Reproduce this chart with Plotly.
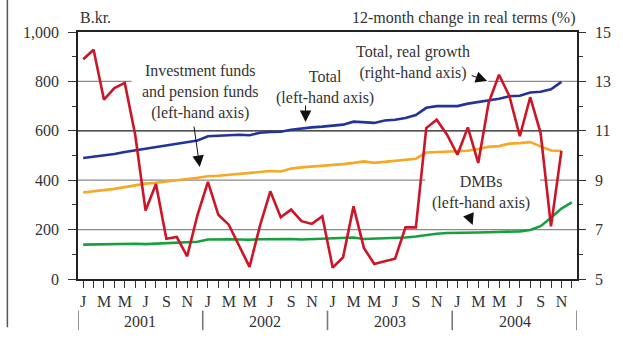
import plotly.graph_objects as go

# Monthly observations, January 2001 - December 2004
years = [2001, 2002, 2003, 2004]
month_letters = ["J", "F", "M", "A", "M", "J", "J", "A", "S", "O", "N", "D"]

# Total assets, B.kr. (left-hand axis)
total = [490, 495, 500, 506, 514, 521, 527, 533, 542, 550, 556, 561,
         578, 580, 580, 584, 582, 592, 595, 596, 604, 610, 614, 617,
         620, 625, 637, 633, 632, 642, 645, 652, 664, 693, 700, 700,
         700, 710, 716, 722, 730, 740, 742, 755, 758, 768, 798]

# Investment funds and pension funds, B.kr. (left-hand axis)
funds = [350, 354, 358, 365, 372, 380, 386, 390, 396, 400, 405, 410,
         416, 418, 422, 425, 428, 432, 437, 435, 447, 452, 455, 458,
         460, 465, 470, 476, 470, 474, 478, 483, 487, 512, 514, 515,
         516, 519, 526, 535, 538, 548, 550, 554, 537, 520, 518]

# DMBs, B.kr. (left-hand axis)
dmbs = [139, 140, 141, 142, 142, 143, 141, 143, 147, 150, 150, 151,
        160, 162, 161, 160, 159, 161, 162, 162, 162, 160, 161, 162,
        163, 164, 168, 162, 163, 164, 166, 168, 172, 178, 183, 186,
        186, 185, 188, 189, 190, 191, 193, 198, 214, 248, 285, 310]

# Total, 12-month real growth, % (right-hand axis)
real_growth = [13.90, 14.28, 12.26, 12.73, 12.94, 10.84, 7.77, 8.85, 6.63, 6.70, 5.92, 7.60,
               8.93, 7.60, 7.20, 6.34, 5.49, 7.15, 8.55, 7.50, 7.81, 7.34, 7.23, 7.54,
               5.46, 5.88, 7.94, 6.26, 5.61, 5.72, 5.82, 7.09, 7.09, 11.11, 11.45, 10.84,
               10.03, 11.14, 9.70, 12.13, 13.27, 12.40, 10.78, 12.36, 10.91, 7.13, 10.19]

n_months = 12 * len(years)
x_all = list(range(n_months))

FONT = "Liberation Serif"
TXT = "#333333"
GRID = "#8a8a8a"

fig = go.Figure()

fig.add_trace(go.Scatter(x=x_all[:len(dmbs)], y=dmbs, mode="lines",
                         line=dict(color="#16a040", width=2.6), name="DMBs"))
fig.add_trace(go.Scatter(x=x_all[:len(funds)], y=funds, mode="lines",
                         line=dict(color="#f7a823", width=2.6),
                         name="Investment funds and pension funds"))
fig.add_trace(go.Scatter(x=x_all[:len(total)], y=total, mode="lines",
                         line=dict(color="#23339c", width=2.6), name="Total"))
fig.add_trace(go.Scatter(x=x_all[:len(real_growth)], y=real_growth, mode="lines",
                         line=dict(color="#cc1526", width=2.6),
                         name="Total, real growth", yaxis="y2"))

# Month tick labels on every other month
tick_text = [month_letters[i % 12] if i % 2 == 0 else "" for i in x_all]

fig.update_layout(
    width=623, height=340,
    margin=dict(l=78, r=46, t=32, b=61),
    paper_bgcolor="white", plot_bgcolor="white",
    showlegend=False,
    font=dict(family=FONT, size=16, color=TXT),
    xaxis=dict(
        range=[-0.5, n_months - 0.5], tickmode="array",
        tickvals=x_all, ticktext=tick_text,
        ticks="outside", ticklen=7, tickwidth=1.3, tickcolor="#333",
        showline=True, linecolor="#222", linewidth=1.6, mirror=True,
        showgrid=False, zeroline=False, ticklabelstandoff=0,
        tickfont=dict(family=FONT, size=16, color=TXT),
    ),
    yaxis=dict(
        range=[0, 1000], tick0=0, dtick=200, tickformat=",d",
        ticks="outside", ticklen=8, tickwidth=1.3, tickcolor="#333",
        minor=dict(dtick=100, ticks="outside", ticklen=4, tickcolor="#333", showgrid=False),
        showline=True, linecolor="#222", linewidth=1.6,
        showgrid=False, zeroline=False, ticklabelstandoff=6,
        tickfont=dict(family=FONT, size=16, color=TXT),
    ),
    yaxis2=dict(
        range=[5, 15], tick0=5, dtick=2, overlaying="y", side="right",
        ticks="outside", ticklen=7, tickwidth=1.3, tickcolor="#333",
        minor=dict(dtick=1, ticks="outside", ticklen=4, tickcolor="#333", showgrid=False),
        showline=True, linecolor="#222", linewidth=1.6,
        showgrid=False, zeroline=False, ticklabelstandoff=6,
        tickfont=dict(family=FONT, size=16, color=TXT),
    ),
)

shapes = []
# Horizontal gridlines, broken where labels sit
def hline(y, x0, x1, color=GRID):
    shapes.append(dict(type="line", xref="paper", yref="y", x0=x0, x1=x1, y0=y, y1=y,
                       line=dict(color=color, width=1.3), layer="below"))

hline(200, 0, 1)
hline(400, 0, 0.696)
hline(400, 0.926, 1)
hline(600, 0, 1, color="#1a1a1a")
hline(800, 0, 0.107)
hline(800, 0.822, 1)

# Year separators below the month labels
for k in range(len(years) + 1):
    xb = 12 * k - 0.5
    shapes.append(dict(type="line", xref="x", yref="paper", x0=xb, x1=xb,
                       y0=-0.128, y1=-0.207, line=dict(color="#777", width=1.6)))

# Frame line at the left edge
shapes.append(dict(type="line", xref="paper", yref="paper", x0=-0.1415, x1=-0.1415,
                   y0=1.13, y1=-0.195, line=dict(color="#555", width=1.5)))
fig.update_layout(shapes=shapes)

ann = []
for k, yr in enumerate(years):
    ann.append(dict(x=12 * k + 5.5, y=-0.13, xref="x", yref="paper", text=str(yr),
                    yanchor="top", showarrow=False, font=dict(size=16, color=TXT)))

ann.append(dict(x=0, y=1.057, xref="paper", yref="paper", text="B.kr.",
                xanchor="left", yanchor="middle", showarrow=False))
ann.append(dict(x=1.0, y=1.057, xref="paper", yref="paper",
                text="12-month change in real terms (%)",
                xanchor="right", yanchor="middle", showarrow=False))

labels = [
    (0.245, 0.757, "Investment funds<br>and pension funds<br>(left-hand axis)"),
    (0.494, 0.775, "Total<br>(left-hand axis)"),
    (0.672, 0.8765, "Total, real growth<br>(right-hand axis)"),
    (0.808, 0.352, "DMBs<br>(left-hand axis)"),
]
for lx, ly, t in labels:
    ann.append(dict(x=lx, y=ly, xref="paper", yref="paper", text=t, showarrow=False,
                    xanchor="center", yanchor="middle", align="center"))

arrows = [
    (0.244, 0.4534, -6, -42),
    (0.456, 0.6356, 0, -18),
    (0.820, 0.8016, -17, -6),
    (0.791, 0.2186, -4, -10),
]
for axp, ayp, dx, dy in arrows:
    ann.append(dict(x=axp, y=ayp, xref="paper", yref="paper", text="",
                    showarrow=True, ax=dx, ay=dy, axref="pixel", ayref="pixel",
                    arrowhead=2, arrowsize=2.3, arrowwidth=1.0, arrowcolor="#111"))

fig.update_layout(annotations=ann)

fig.write_html("out.html")
